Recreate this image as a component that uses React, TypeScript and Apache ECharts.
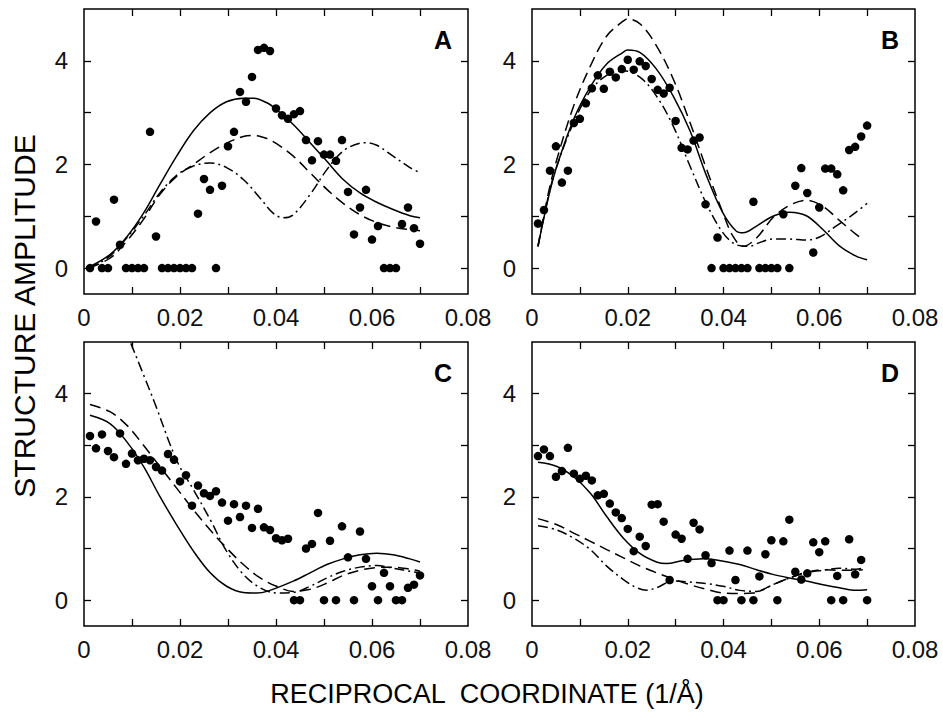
import React, { useEffect, useRef } from 'react';
import * as echarts from 'echarts';

const XS = [0.00125, 0.0025, 0.00375, 0.005, 0.00625, 0.0075, 0.00875, 0.01, 0.01125, 0.0125, 0.01375, 0.015, 0.01625, 0.0175, 0.01875, 0.02, 0.02125, 0.0225, 0.02375, 0.025, 0.02625, 0.0275, 0.02875, 0.03, 0.03125, 0.0325, 0.03375, 0.035, 0.03625, 0.0375, 0.03875, 0.04, 0.04125, 0.0425, 0.04375, 0.045, 0.04625, 0.0475, 0.04875, 0.05, 0.05125, 0.0525, 0.05375, 0.055, 0.05625, 0.0575, 0.05875, 0.06, 0.06125, 0.0625, 0.06375, 0.065, 0.06625, 0.0675, 0.06875, 0.07];

const A_DOTS = [0, 0.9, 0, 0, 1.32, 0.45, 0, 0, 0, 0, 2.63, 0.61, 0, 0, 0, 0, 0, 0, 1.05, 1.72, 1.51, 0, 1.59, 2.35, 2.63, 3.4, 3.21, 3.69, 4.21, 4.25, 4.19, 3.08, 2.95, 2.88, 2.97, 3.03, 2.47, 2.08, 2.45, 2.19, 2.19, 2.07, 2.47, 1.47, 0.65, 1.17, 1.51, 0.55, 0.81, 0, 0, 0, 0.85, 1.17, 0.77, 0.47];
const B_DOTS = [0.86, 1.12, 1.88, 2.35, 1.65, 1.88, 2.8, 2.88, 3.18, 3.47, 3.72, 3.46, 3.79, 3.68, 3.84, 4.02, 3.83, 3.99, 3.9, 3.65, 3.44, 3.37, 3.48, 2.84, 2.32, 2.29, 2.46, 2.52, 1.23, 0, 0.59, 0, 0, 0, 0, 0, 1.28, 0, 0, 0, 0, 1.04, 0, 1.59, 1.93, 1.45, 0.3, 1.17, 1.92, 1.92, 1.81, 1.5, 2.28, 2.34, 2.54, 2.75];
const C_DOTS = [3.18, 2.94, 3.21, 2.89, 2.77, 3.23, 2.64, 2.84, 2.71, 2.74, 2.71, 2.58, 2.51, 2.83, 2.72, 2.3, 2.42, 1.83, 2.22, 2.07, 2.02, 2.11, 1.89, 1.54, 1.86, 1.61, 1.83, 1.4, 1.77, 1.41, 1.36, 1.2, 1.16, 1.19, 0, 0, 1.0, 1.09, 1.69, 0, 1.15, 0, 1.43, 0.83, 0, 1.33, 0.8, 0.27, 0, 0.53, 0.27, 0, 0, 0.24, 0.3, 0.48];
const D_DOTS = [2.79, 2.92, 2.79, 2.39, 2.5, 2.95, 2.45, 2.35, 2.41, 2.32, 2.03, 2.06, 1.87, 1.7, 1.59, 1.38, 0.95, 1.23, 1.05, 1.85, 1.86, 1.52, 0.39, 1.27, 1.19, 0.8, 1.5, 1.37, 0.87, 0.72, 0, 0, 0.96, 0.39, 0, 0.96, 0, 0.46, 0.89, 1.16, 0, 1.14, 1.56, 0.55, 0.4, 0.52, 1.12, 0.93, 1.14, 0, 0.47, 0, 1.18, 0.5, 0.78, 0];

const A_SOLID = [[0.001, 0.02], [0.0054, 0.26], [0.0089, 0.6], [0.0124, 1.06], [0.0158, 1.61], [0.0193, 2.16], [0.0228, 2.65], [0.0263, 3.0], [0.0297, 3.21], [0.0332, 3.28], [0.0353, 3.28], [0.0381, 3.19], [0.0401, 3.06], [0.0436, 2.77], [0.0471, 2.42], [0.0506, 2.06], [0.054, 1.71], [0.0575, 1.45], [0.061, 1.27], [0.0644, 1.13], [0.0679, 1.01], [0.07, 0.97]];
const A_DASH = [[0.001, 0.0], [0.0054, 0.19], [0.0089, 0.52], [0.0124, 0.94], [0.0158, 1.42], [0.0193, 1.77], [0.0228, 2.0], [0.0263, 2.23], [0.0297, 2.41], [0.0332, 2.54], [0.0353, 2.56], [0.0381, 2.5], [0.0401, 2.4], [0.0436, 2.16], [0.0471, 1.84], [0.0506, 1.52], [0.054, 1.25], [0.0575, 1.03], [0.061, 0.88], [0.0644, 0.79], [0.0679, 0.74], [0.07, 0.72]];
const A_DOTDASH = [[0.001, 0.0], [0.0054, 0.23], [0.0089, 0.58], [0.0124, 1.0], [0.0158, 1.45], [0.0193, 1.79], [0.0228, 1.97], [0.0263, 2.03], [0.0297, 1.94], [0.0332, 1.71], [0.0367, 1.35], [0.0394, 1.06], [0.0415, 0.97], [0.0436, 1.03], [0.0471, 1.42], [0.0506, 1.9], [0.054, 2.26], [0.0575, 2.41], [0.0589, 2.42], [0.061, 2.37], [0.0644, 2.16], [0.0679, 1.94], [0.07, 1.84]];

const B_SOLID = [[0.00125, 0.42], [0.0035, 1.39], [0.0052, 1.97], [0.0087, 2.87], [0.0122, 3.5], [0.0156, 3.94], [0.0191, 4.17], [0.0199, 4.21], [0.0226, 4.16], [0.026, 3.84], [0.0295, 3.32], [0.033, 2.65], [0.0365, 1.77], [0.0399, 1.06], [0.0427, 0.71], [0.0441, 0.68], [0.0469, 0.81], [0.0503, 1.0], [0.0538, 1.08], [0.0573, 1.01], [0.0608, 0.74], [0.0642, 0.43], [0.0677, 0.23], [0.07, 0.16]];
const B_DASH = [[0.00125, 0.42], [0.0035, 1.48], [0.0052, 2.1], [0.0087, 3.13], [0.0122, 3.9], [0.0156, 4.48], [0.0191, 4.77], [0.0199, 4.81], [0.0226, 4.71], [0.026, 4.29], [0.0295, 3.65], [0.033, 2.81], [0.0365, 1.9], [0.0399, 1.06], [0.042, 0.61], [0.0441, 0.42], [0.0469, 0.58], [0.0503, 0.97], [0.0538, 1.21], [0.0573, 1.31], [0.0608, 1.19], [0.0642, 0.92], [0.0677, 0.65], [0.0688, 0.58]];
const B_DOTDASH = [[0.00125, 0.42], [0.0035, 1.42], [0.0052, 1.97], [0.0087, 2.81], [0.0122, 3.42], [0.0156, 3.72], [0.0191, 3.81], [0.0226, 3.68], [0.026, 3.32], [0.0295, 2.74], [0.033, 1.97], [0.0365, 1.23], [0.0399, 0.68], [0.0427, 0.45], [0.0455, 0.42], [0.0469, 0.47], [0.0503, 0.56], [0.0538, 0.56], [0.0573, 0.54], [0.0601, 0.6], [0.0635, 0.81], [0.067, 1.03], [0.07, 1.25]];

const C_SOLID = [[0.00125, 3.58], [0.0054, 3.42], [0.0089, 3.07], [0.0124, 2.59], [0.0158, 2.01], [0.0193, 1.46], [0.0228, 0.95], [0.0263, 0.53], [0.0297, 0.27], [0.0332, 0.15], [0.036, 0.14], [0.0381, 0.17], [0.0436, 0.37], [0.0471, 0.53], [0.0506, 0.69], [0.054, 0.8], [0.0575, 0.88], [0.061, 0.91], [0.0644, 0.88], [0.0679, 0.8], [0.07, 0.74]];
const C_DASH = [[0.00125, 3.79], [0.0054, 3.65], [0.0089, 3.39], [0.0124, 3.0], [0.0158, 2.59], [0.0193, 2.17], [0.0228, 1.75], [0.0263, 1.36], [0.0297, 1.01], [0.0332, 0.69], [0.0367, 0.43], [0.0401, 0.27], [0.0436, 0.17], [0.0471, 0.21], [0.0506, 0.33], [0.054, 0.48], [0.0575, 0.58], [0.061, 0.63], [0.0644, 0.64], [0.0679, 0.6], [0.07, 0.56]];
const C_DOTDASH = [[0.0082, 5.33], [0.0144, 3.9], [0.0193, 2.71], [0.0228, 2.14], [0.0263, 1.56], [0.0297, 0.95], [0.0332, 0.5], [0.0367, 0.24], [0.0401, 0.14], [0.0436, 0.15], [0.0471, 0.27], [0.0506, 0.43], [0.054, 0.56], [0.0575, 0.64], [0.061, 0.67], [0.0644, 0.62], [0.0679, 0.56], [0.07, 0.53]];

const D_SOLID = [[0.00125, 2.67], [0.0052, 2.59], [0.0087, 2.39], [0.0122, 2.07], [0.0156, 1.62], [0.0191, 1.2], [0.0226, 0.9], [0.026, 0.74], [0.0281, 0.71], [0.0316, 0.77], [0.0358, 0.8], [0.0385, 0.78], [0.0434, 0.69], [0.0469, 0.59], [0.0503, 0.5], [0.0538, 0.43], [0.0573, 0.37], [0.0608, 0.3], [0.0642, 0.24], [0.0677, 0.19], [0.07, 0.2]];
const D_DASH = [[0.00125, 1.58], [0.0052, 1.46], [0.0087, 1.3], [0.0122, 1.14], [0.0156, 0.98], [0.0191, 0.82], [0.0226, 0.66], [0.026, 0.53], [0.0295, 0.41], [0.033, 0.3], [0.0365, 0.21], [0.0399, 0.14], [0.0434, 0.13], [0.0462, 0.14], [0.0483, 0.21], [0.0503, 0.3], [0.0538, 0.43], [0.0573, 0.54], [0.0608, 0.59], [0.0642, 0.58], [0.0677, 0.58], [0.0691, 0.59]];
const D_DOTDASH = [[0.00125, 1.44], [0.0052, 1.36], [0.0087, 1.2], [0.0122, 0.98], [0.0156, 0.66], [0.0191, 0.4], [0.0219, 0.24], [0.024, 0.19], [0.026, 0.24], [0.0295, 0.37], [0.033, 0.35], [0.0365, 0.32], [0.0399, 0.27], [0.0434, 0.19], [0.0469, 0.17], [0.0503, 0.3], [0.0538, 0.43], [0.0573, 0.53], [0.0608, 0.58], [0.0642, 0.62], [0.0677, 0.6], [0.0691, 0.62]];

const X_TICKS = [0.01, 0.02, 0.03, 0.04, 0.05, 0.06, 0.07];
const X_LABELS = [0, 0.02, 0.04, 0.06, 0.08];
const Y_TICKS = [0, 1, 2, 3, 4];
const Y_LABELS = [0, 2, 4];
const PANEL_NAMES = ['A', 'B', 'C', 'D'];
const X_TITLE = 'RECIPROCAL  COORDINATE (1/Å)';
const Y_TITLE = 'STRUCTURE AMPLITUDE';

const FONT = '"Liberation Sans", Arial, Helvetica, sans-serif';

export default function App() {
  const ref = useRef<HTMLDivElement>(null);
  useEffect(() => {
    const chart = echarts.init(ref.current as HTMLDivElement, null, { renderer: 'svg' });
    const grids = [
      { left: 84, top: 9, width: 384, height: 285 },
      { left: 532, top: 9, width: 383, height: 285 },
      { left: 84, top: 342, width: 384, height: 284 },
      { left: 532, top: 342, width: 383, height: 284 },
    ];
    const panels = [
      { dots: A_DOTS, solid: A_SOLID, dash: A_DASH, dotdash: A_DOTDASH },
      { dots: B_DOTS, solid: B_SOLID, dash: B_DASH, dotdash: B_DOTDASH },
      { dots: C_DOTS, solid: C_SOLID, dash: C_DASH, dotdash: C_DOTDASH },
      { dots: D_DOTS, solid: D_SOLID, dash: D_DASH, dotdash: D_DOTDASH },
    ];
    const tickStyle = { color: '#000', width: 1.3 };
    const xAxes: any[] = [];
    const yAxes: any[] = [];
    const series: any[] = [];
    const labelTexts: any[] = [];
    grids.forEach((g, i) => {
      xAxes.push({
        type: 'value', gridIndex: i, position: 'bottom', min: 0, max: 0.08,
        axisLine: { show: false, onZero: false }, splitLine: { show: false },
        axisTick: { show: true, inside: true, length: 7, lineStyle: tickStyle, customValues: X_TICKS },
        axisLabel: {
          show: true, customValues: X_LABELS, margin: 11, color: '#111', fontFamily: FONT, fontSize: 24,
          formatter: (v: number) => (v === 0 ? '0' : v.toFixed(2)),
        },
      });
      xAxes.push({
        type: 'value', gridIndex: i, position: 'top', min: 0, max: 0.08,
        axisLine: { show: false, onZero: false }, splitLine: { show: false },
        axisTick: { show: true, inside: true, length: 7, lineStyle: tickStyle, customValues: X_TICKS },
        axisLabel: { show: false },
      });
      yAxes.push({
        type: 'value', gridIndex: i, position: 'left', min: -0.5, max: 5,
        axisLine: { show: false, onZero: false }, splitLine: { show: false },
        axisTick: { show: true, inside: true, length: 7, lineStyle: tickStyle, customValues: Y_TICKS },
        axisLabel: { show: true, customValues: Y_LABELS, margin: 16, color: '#111', fontFamily: FONT, fontSize: 24 },
      });
      yAxes.push({
        type: 'value', gridIndex: i, position: 'right', min: -0.5, max: 5,
        axisLine: { show: false, onZero: false }, splitLine: { show: false },
        axisTick: { show: true, inside: true, length: 7, lineStyle: tickStyle, customValues: Y_TICKS },
        axisLabel: { show: false },
      });
      const p = panels[i];
      const ax = { xAxisIndex: 2 * i, yAxisIndex: 2 * i };
      series.push({
        type: 'scatter', ...ax, symbol: 'circle', symbolSize: 8.5,
        itemStyle: { color: '#000', opacity: 1 },
        data: XS.map((x, k) => [x, p.dots[k]]),
      });
      const lineBase = { type: 'line', ...ax, showSymbol: false, smooth: 0.35, clip: true };
      series.push({ ...lineBase, data: p.solid, lineStyle: { color: '#000', width: 1.5, type: 'solid' } });
      series.push({ ...lineBase, data: p.dash, lineStyle: { color: '#000', width: 1.5, type: [11, 6] } });
      series.push({ ...lineBase, data: p.dotdash, lineStyle: { color: '#000', width: 1.5, type: [10, 4, 2, 4] } });
      labelTexts.push({
        type: 'text', x: g.left + g.width - 16, y: g.top + 31,
        style: { text: PANEL_NAMES[i], font: `bold 25px ${FONT}`, fill: '#000', textAlign: 'right', textVerticalAlign: 'middle' },
      });
    });
    const option: any = {
      animation: false,
      backgroundColor: '#fff',
      grid: grids.map((g) => ({ ...g, show: true, borderColor: '#000', borderWidth: 1.5, backgroundColor: 'transparent', containLabel: false })),
      xAxis: xAxes,
      yAxis: yAxes,
      series,
      graphic: [
        ...labelTexts,
        {
          type: 'text', x: 487, y: 694,
          style: { text: X_TITLE, font: `27px ${FONT}`, fill: '#000', textAlign: 'center', textVerticalAlign: 'middle' },
        },
        {
          type: 'text', x: 24, y: 316, rotation: Math.PI / 2,
          style: { text: Y_TITLE, font: `30px ${FONT}`, fill: '#000', textAlign: 'center', textVerticalAlign: 'middle' },
        },
      ],
    };
    chart.setOption(option);
    return () => chart.dispose();
  }, []);
  return <div ref={ref} style={{ position: 'fixed', left: 0, top: 0, width: 943, height: 712, background: '#fff' }} />;
}
